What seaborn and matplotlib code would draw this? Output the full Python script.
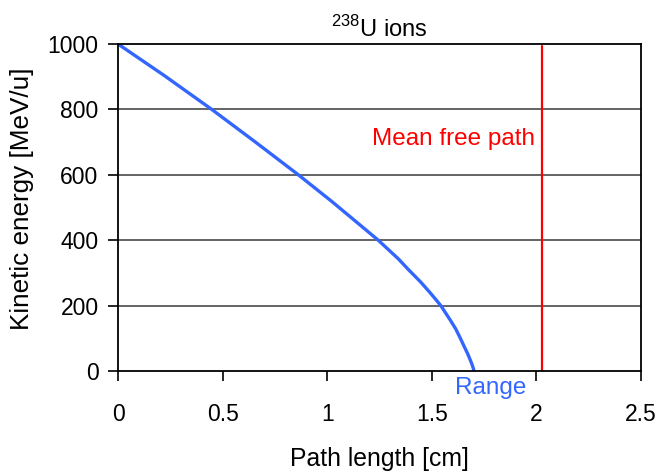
import matplotlib
matplotlib.use("Agg")
import matplotlib.pyplot as plt
import seaborn as sns
import pandas as pd

# Data
path_cm = [0.0, 0.22, 0.448, 0.655, 0.862, 1.021, 1.141, 1.244, 1.34, 1.39, 1.447, 1.491,
           1.52, 1.543, 1.587, 1.615, 1.638, 1.66, 1.672, 1.685, 1.691, 1.697, 1.702]
energy = [1000, 904, 800, 701, 600, 519, 455, 400, 343, 309, 272, 240,
          218, 200, 157, 128, 98, 68, 52, 32, 22, 11, 0]
mean_free_path = 2.025
xticks = [0, 0.5, 1, 1.5, 2, 2.5]
xticklabels = ["0", "0.5", "1", "1.5", "2", "2.5"]
yticks = [0, 200, 400, 600, 800, 1000]

sns.set_style("white")
plt.rcParams['font.family'] = ['Liberation Sans', 'DejaVu Sans']
plt.rcParams['mathtext.fontset'] = 'custom'
plt.rcParams['mathtext.rm'] = 'Liberation Sans'
plt.rcParams['text.color'] = 'black'
plt.rcParams['axes.labelcolor'] = 'black'
plt.rcParams['xtick.color'] = 'black'
plt.rcParams['ytick.color'] = 'black'

fig = plt.figure(figsize=(6.6, 4.74), dpi=100)
ax = fig.add_axes([118/660, 1-371/474, (641-118)/660, (371-44)/474])

df = pd.DataFrame({"x": path_cm, "E": energy})
sns.lineplot(data=df, x="x", y="E", ax=ax, color="#3366FF", linewidth=2.4, sort=False)
ax.axvline(mean_free_path, color="#FF0000", linewidth=1.6, ymax=0.995)

ax.set_xlim(0, 2.5)
ax.set_ylim(0, 1000)
ax.set_xticks(xticks)
ax.set_xticklabels(xticklabels)
ax.set_yticks(yticks)
for yv in yticks[1:-1]:
    ax.axhline(yv, color="#3a3a3a", linewidth=1.1, zorder=0)

for s in ax.spines.values():
    s.set_color("black")
    s.set_linewidth(1.3)

ax.tick_params(axis='x', direction='out', length=7, width=1.2, color='black', pad=16, labelsize=16.5)
ax.tick_params(axis='y', direction='out', length=7, width=1.2, color='black', pad=7, labelsize=16.5)
ax.tick_params(bottom=True, left=True)

ax.set_xlabel("Path length [cm]", fontsize=17.8, labelpad=15)
ax.set_ylabel("Kinetic energy [MeV/u]", fontsize=18.8, va="center")
ax.yaxis.set_label_coords(-0.1836, 0.526)
ax.set_title(r"$^{238}$U ions", fontsize=17, pad=5)

ax.text(1.995, 710, "Mean free path", color="#FF0000", fontsize=17.5, ha="right", va="center")
ax.text(1.783, -52, "Range", color="#3366FF", fontsize=17.5, ha="center", va="center", clip_on=False)

fig.savefig("out.png", dpi=100)
